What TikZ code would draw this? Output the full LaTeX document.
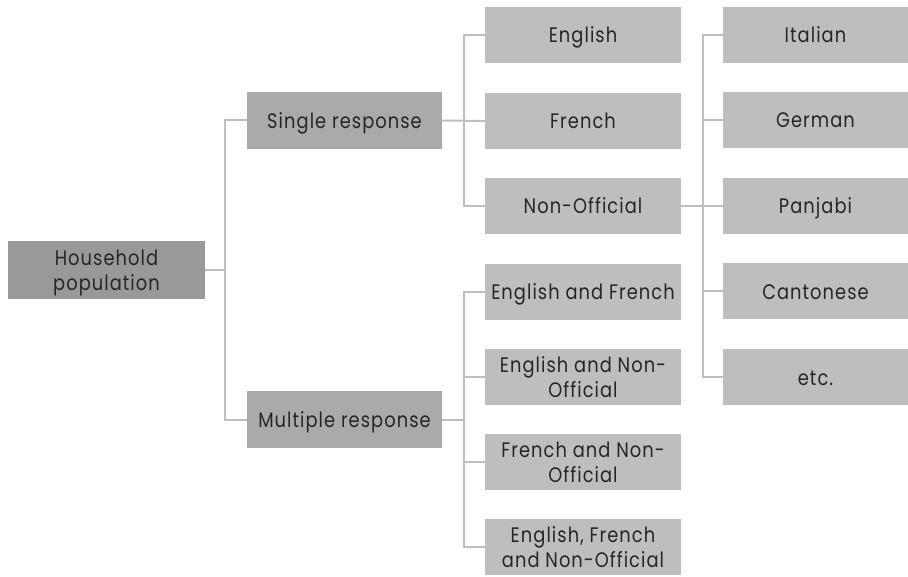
\documentclass[tikz,border=0pt]{standalone}
\usepackage{fontspec}
\setmainfont{Poppins}[LetterSpace=5,FakeStretch=0.85]
\begin{document}
\begin{tikzpicture}[x=1pt,y=-1pt,
  every node/.style={font=\fontsize{21}{25}\selectfont, text=black!85, align=center, inner sep=0pt},
  one/.style={text height=21pt, text depth=5pt},
  two/.style={text height=46.5pt, text depth=5pt},
  box/.style={rectangle, minimum height=56pt},
  lone/.style={box, minimum width=197pt, minimum height=58pt, fill={rgb,255:red,153;green,153;blue,153}},
  ltwo/.style={box, minimum width=195pt, minimum height=57pt, fill={rgb,255:red,170;green,170;blue,170}},
  lthree/.style={box, minimum width=196pt, fill={rgb,255:red,190;green,190;blue,190}},
  lfour/.style={box, minimum width=185pt, fill={rgb,255:red,190;green,190;blue,190}},
  conn/.style={draw={rgb,255:red,190;green,190;blue,190}, line width=2pt}
]
\useasboundingbox (0,0) rectangle (908,577);
\node[lone,two] (hh) at (106.5,270) {Household\\population};
\node[ltwo,one] (sr) at (344.5,120.5) {Single response};
\node[ltwo,one] (mr) at (344.5,419.5) {Multiple response};

\node[lthree,one] (en) at (583,35) {English};
\node[lthree,one] (fr) at (583,121) {French};
\node[lthree,one] (no) at (583,206) {Non-Official};
\node[lthree,one] (ef) at (583,292) {English and French};
\node[lthree,two] (eno) at (583,377) {English and Non-\\Official};
\node[lthree,two] (fno) at (583,462) {French and Non-\\Official};
\node[lthree,two] (efno) at (583,547) {English, French\\and Non-Official};

\node[lfour,one] (it) at (815.5,35) {Italian};
\node[lfour,one] (ge) at (815.5,120) {German};
\node[lfour,one] (pa) at (815.5,206) {Panjabi};
\node[lfour,one] (ca) at (815.5,291.5) {Cantonese};
\node[lfour,one] (etc) at (815.5,377) {etc.};

% level 1 -> 2
\coordinate (b1) at (225,270);
\draw[conn] (hh.east) -- (b1);
\draw[conn] (sr.west) -- ++(-22,0) coordinate (b1t) -- (b1t |- mr.west) -- (mr.west);

% single response
\draw[conn] (sr.east) -- (fr.west);
\draw[conn] (en.west) -- ++(-21,0) coordinate (b2t) -- (b2t |- no.west) -- (no.west);

% multiple response
\draw[conn] (mr.east) -- ++(22,0);
\draw[conn] (ef.west) -- ++(-21,0) coordinate (b3t) -- (b3t |- efno.west) -- (efno.west);
\draw[conn] (eno.west) -- ++(-21,0);
\draw[conn] (fno.west) -- ++(-21,0);

% non-official
\draw[conn] (no.east) -- (pa.west);
\draw[conn] (it.west) -- ++(-20,0) coordinate (b4t) -- (b4t |- etc.west) -- (etc.west);
\draw[conn] (ge.west) -- ++(-20,0);
\draw[conn] (ca.west) -- ++(-20,0);
\end{tikzpicture}
\end{document}
